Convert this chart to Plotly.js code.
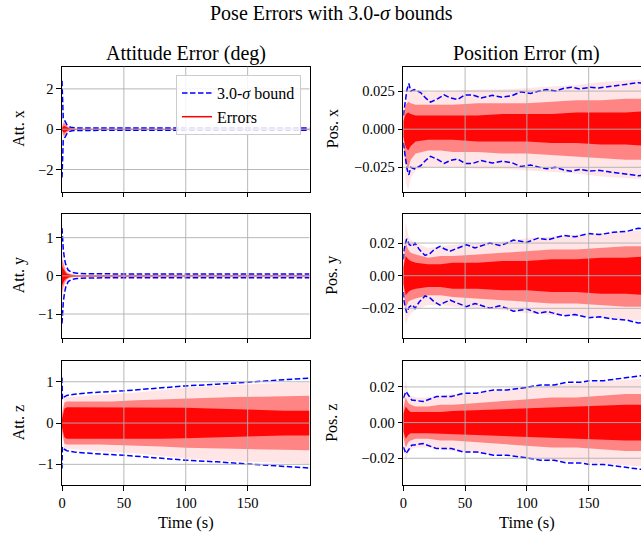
<!DOCTYPE html>
<html><head><meta charset="utf-8">
<script src="https://cdn.plot.ly/plotly-3.0.1.min.js"></script>
<style>html,body{margin:0;padding:0;overflow:hidden;background:#fff}</style>
</head><body><div id="chart" style="width:662px;height:537px"></div>
<script>
// ---------------- data ----------------
const timeTicks = [0, 50, 100, 150];

// Attitude x
const attX_boundT = [0, 0.3, 1, 2, 3, 4, 6, 8, 12, 20, 50, 100, 150, 200];
const attX_bound  = [2.4, 1.2, 0.55, 0.45, 0.35, 0.22, 0.12, 0.08, 0.06, 0.055, 0.055, 0.055, 0.055, 0.055];
const attX_bandT  = [0, 0.5, 1, 2, 3, 4, 6, 8, 12, 200];
const attX_outer  = [0.1, 0.3, 0.45, 0.48, 0.35, 0.22, 0.1, 0.05, 0.03, 0.03];
const attX_mid    = [0.07, 0.2, 0.3, 0.32, 0.25, 0.15, 0.07, 0.035, 0.02, 0.02];
const attX_core   = [0.04, 0.1, 0.15, 0.16, 0.12, 0.08, 0.04, 0.02, 0.01, 0.01];

// Attitude y
const attY_boundT = [0, 0.5, 1, 2, 3, 5, 8, 12, 20, 50, 100, 150, 200];
const attY_bound  = [1.25, 0.9, 0.7, 0.45, 0.3, 0.15, 0.09, 0.07, 0.055, 0.05, 0.05, 0.05, 0.05];
const attY_bandT  = [0, 0.5, 1, 2, 3, 4, 6, 8, 12, 200];
const attY_outer  = [0.65, 0.55, 0.45, 0.3, 0.2, 0.14, 0.08, 0.05, 0.03, 0.03];
const attY_mid    = [0.45, 0.4, 0.3, 0.2, 0.13, 0.09, 0.05, 0.035, 0.02, 0.02];
const attY_core   = [0.25, 0.22, 0.17, 0.12, 0.08, 0.05, 0.03, 0.02, 0.01, 0.01];

// Attitude z
const attZ_boundT = [0, 0.3, 1, 4, 10, 25, 50, 75, 100, 125, 150, 175, 200];
const attZ_bound  = [1.1, 0.58, 0.62, 0.67, 0.7, 0.74, 0.78, 0.84, 0.9, 0.94, 0.99, 1.04, 1.09];
const bandT       = [0, 2, 4, 6, 10, 20, 30, 40, 60, 80, 100, 120, 140, 160, 180, 200];
const attZ_outer  = [0.3, 0.62, 0.64, 0.64, 0.64, 0.66, 0.68, 0.7, 0.74, 0.8, 0.86, 0.9, 0.93, 0.95, 0.97, 0.99];
const attZ_mid    = [0.2, 0.5, 0.52, 0.52, 0.52, 0.52, 0.52, 0.52, 0.55, 0.57, 0.6, 0.62, 0.63, 0.64, 0.65, 0.66];
const attZ_core   = [0.1, 0.35, 0.38, 0.38, 0.38, 0.38, 0.38, 0.38, 0.38, 0.38, 0.37, 0.35, 0.33, 0.32, 0.3, 0.3];

// Position x
const posX_boundT = [0, 1, 3, 4.5, 6, 9, 14, 18, 22, 28, 33, 38, 44, 50, 56, 63, 72, 80, 88, 95, 103, 110, 116, 123, 130, 136, 143, 151, 158, 165, 175, 183, 190, 200];
const posX_bound  = [0.009, 0.014, 0.026, 0.030, 0.025, 0.026, 0.024, 0.0205, 0.0178, 0.020, 0.0225, 0.0205, 0.0195, 0.0225, 0.0225, 0.0205, 0.0222, 0.021, 0.022, 0.0245, 0.0235, 0.025, 0.026, 0.025, 0.0268, 0.0275, 0.0264, 0.0275, 0.027, 0.0278, 0.029, 0.0295, 0.0305, 0.030];
const posX_outerHi = [0.012, 0.025, 0.028, 0.027, 0.026, 0.024, 0.025, 0.025, 0.026, 0.026, 0.027, 0.028, 0.029, 0.031, 0.032, 0.033];
const posX_outerLo = [-0.012, -0.035, -0.04, -0.032, -0.027, -0.025, -0.025, -0.025, -0.026, -0.026, -0.027, -0.028, -0.029, -0.031, -0.032, -0.033];
const posX_midHi   = [0.008, 0.016, 0.018, 0.017, 0.016, 0.016, 0.016, 0.016, 0.017, 0.017, 0.017, 0.018, 0.019, 0.019, 0.020, 0.020];
const posX_midLo   = [-0.008, -0.022, -0.026, -0.02, -0.016, -0.014, -0.014, -0.015, -0.015, -0.016, -0.016, -0.017, -0.018, -0.019, -0.020, -0.020];
const posX_coreHi  = [0.005, 0.010, 0.011, 0.010, 0.009, 0.009, 0.009, 0.009, 0.009, 0.010, 0.010, 0.010, 0.011, 0.011, 0.011, 0.012];
const posX_coreLo  = [-0.005, -0.012, -0.014, -0.011, -0.008, -0.007, -0.007, -0.007, -0.008, -0.008, -0.008, -0.009, -0.009, -0.010, -0.010, -0.011];

// Position y
const posY_boundT = [0, 0.6, 2.7, 4.9, 7.6, 9.5, 13, 17.6, 21.6, 25, 29.7, 33, 37.8, 43, 51, 58, 64, 70, 78, 84, 89, 95, 100, 109, 117, 124, 130, 139, 150, 159, 170, 181, 190, 200];
const posY_bound  = [0.01, 0.016, 0.0226, 0.019, 0.018, 0.020, 0.016, 0.0124, 0.0136, 0.016, 0.018, 0.0165, 0.015, 0.0165, 0.019, 0.017, 0.0185, 0.020, 0.0185, 0.020, 0.0218, 0.021, 0.0205, 0.023, 0.022, 0.0235, 0.0246, 0.0238, 0.0258, 0.0252, 0.0266, 0.0272, 0.029, 0.0285];
const posY_outerHi = [0.012, 0.033, 0.025, 0.022, 0.02, 0.017, 0.018, 0.019, 0.02, 0.021, 0.023, 0.024, 0.025, 0.026, 0.027, 0.028];
const posY_outerLo = [-0.012, -0.03, -0.026, -0.023, -0.021, -0.018, -0.018, -0.019, -0.02, -0.021, -0.023, -0.024, -0.025, -0.026, -0.027, -0.028];
const posY_midHi   = [0.008, 0.02, 0.016, 0.014, 0.013, 0.011, 0.012, 0.012, 0.013, 0.014, 0.015, 0.016, 0.016, 0.017, 0.018, 0.018];
const posY_midLo   = [-0.008, -0.02, -0.016, -0.015, -0.014, -0.012, -0.012, -0.013, -0.014, -0.015, -0.016, -0.017, -0.017, -0.018, -0.019, -0.019];
const posY_coreHi  = [0.005, 0.012, 0.01, 0.009, 0.008, 0.007, 0.007, 0.008, 0.008, 0.009, 0.009, 0.01, 0.01, 0.011, 0.011, 0.012];
const posY_coreLo  = [-0.005, -0.012, -0.01, -0.009, -0.008, -0.007, -0.007, -0.008, -0.008, -0.009, -0.009, -0.01, -0.01, -0.011, -0.011, -0.012];

// Position z
const posZ_boundT = [0, 2.2, 6.8, 16, 27, 39, 48.6, 59.5, 73, 84, 100, 111, 122, 132, 143, 151, 162, 173, 184, 192, 200];
const posZ_bound  = [0.0137, 0.0174, 0.0127, 0.0118, 0.0146, 0.0146, 0.0165, 0.0165, 0.0183, 0.0183, 0.0198, 0.0211, 0.0211, 0.0226, 0.0226, 0.0235, 0.0235, 0.0245, 0.0254, 0.0262, 0.0265];
const posZ_outerHi = [0.012, 0.024, 0.016, 0.015, 0.014, 0.014, 0.015, 0.016, 0.017, 0.018, 0.02, 0.021, 0.022, 0.023, 0.024, 0.025];
const posZ_outerLo = [-0.012, -0.022, -0.017, -0.015, -0.014, -0.014, -0.015, -0.016, -0.017, -0.018, -0.02, -0.021, -0.022, -0.023, -0.024, -0.025];
const posZ_midHi   = [0.008, 0.014, 0.011, 0.010, 0.009, 0.009, 0.010, 0.010, 0.011, 0.012, 0.013, 0.014, 0.014, 0.015, 0.016, 0.016];
const posZ_midLo   = [-0.008, -0.014, -0.011, -0.010, -0.009, -0.009, -0.010, -0.010, -0.011, -0.012, -0.013, -0.014, -0.014, -0.015, -0.016, -0.016];
const posZ_coreHi  = [0.005, 0.009, 0.007, 0.006, 0.006, 0.006, 0.006, 0.0065, 0.007, 0.0075, 0.008, 0.0085, 0.009, 0.0095, 0.01, 0.01];
const posZ_coreLo  = [-0.005, -0.009, -0.007, -0.006, -0.006, -0.006, -0.006, -0.0065, -0.007, -0.0075, -0.008, -0.0085, -0.009, -0.0095, -0.01, -0.01];

// tick labels / texts
const mainTitle = 'Pose Errors with 3.0-<i>σ</i> bounds';
const colTitles = ['Attitude Error (deg)', 'Position Error (m)'];
const yLabels = ['Att. x', 'Pos. x', 'Att. y', 'Pos. y', 'Att. z', 'Pos. z'];
const xLabel = 'Time (s)';
const boundName = '3.0-<i>σ</i> bound';
const errName = 'Errors';

// ---------------- layout geometry ----------------
const W = 662, H = 537;
const FONT = 'Liberation Serif, Times New Roman, serif';
const colPx = [[62, 309.5], [403.3, 650.5]];
const rowPx = [[66.7, 191.7], [214, 337.7], [360.7, 485]];
const neg = a => a.map(v => -v);

const panels = [
  {row:0,col:0, yr:[-3.1,3.1], yt:[-2,0,2], fmt:'', bT:attX_boundT, b:attX_bound, t:attX_bandT,
   bands:[[attX_outer,neg(attX_outer)],[attX_mid,neg(attX_mid)],[attX_core,neg(attX_core)]]},
  {row:0,col:1, yr:[-0.041,0.041], yt:[-0.025,0,0.025], fmt:'.3f', bT:posX_boundT, b:posX_bound, t:bandT,
   bands:[[posX_outerHi,posX_outerLo],[posX_midHi,posX_midLo],[posX_coreHi,posX_coreLo]]},
  {row:1,col:0, yr:[-1.62,1.62], yt:[-1,0,1], fmt:'', bT:attY_boundT, b:attY_bound, t:attY_bandT,
   bands:[[attY_outer,neg(attY_outer)],[attY_mid,neg(attY_mid)],[attY_core,neg(attY_core)]]},
  {row:1,col:1, yr:[-0.038,0.0378], yt:[-0.02,0,0.02], fmt:'.2f', bT:posY_boundT, b:posY_bound, t:bandT,
   bands:[[posY_outerHi,posY_outerLo],[posY_midHi,posY_midLo],[posY_coreHi,posY_coreLo]]},
  {row:2,col:0, yr:[-1.5,1.51], yt:[-1,0,1], fmt:'', bT:attZ_boundT, b:attZ_bound, t:bandT,
   bands:[[attZ_outer,neg(attZ_outer)],[attZ_mid,neg(attZ_mid)],[attZ_core,neg(attZ_core)]]},
  {row:2,col:1, yr:[-0.035,0.0347], yt:[-0.02,0,0.02], fmt:'.2f', bT:posZ_boundT, b:posZ_bound, t:bandT,
   bands:[[posZ_outerHi,posZ_outerLo],[posZ_midHi,posZ_midLo],[posZ_coreHi,posZ_coreLo]]}
];
const bandColors = ['rgba(255,0,0,0.1)', 'rgba(255,0,0,0.42)', 'rgba(255,0,0,0.95)'];

const traces = [];
const layout = {
  width: W, height: H, margin: {l:0, r:0, t:0, b:0},
  paper_bgcolor: '#fff', plot_bgcolor: '#fff',
  font: {family: FONT, color: '#000', size: 14.5},
  showlegend: true,
  legend: {x: 301/W, xanchor: 'right', y: 1 - 75/H, yanchor: 'top',
           bgcolor: 'rgba(255,255,255,0.85)', bordercolor: '#cccccc', borderwidth: 1,
           font: {family: FONT, size: 16}, tracegroupgap: 0},
  shapes: [], annotations: []
};

panels.forEach((p, i) => {
  const n = i + 1;
  const xa = n === 1 ? 'x' : 'x' + n, ya = n === 1 ? 'y' : 'y' + n;
  const xd = colPx[p.col], yd = rowPx[p.row];
  layout['xaxis' + (n === 1 ? '' : n)] = {
    domain: [xd[0]/W, xd[1]/W], anchor: ya, range: [0, 200],
    tickvals: timeTicks, showticklabels: p.row === 2,
    ticks: 'outside', ticklen: 4.5, tickwidth: 1, tickcolor: '#000',
    showgrid: false, zeroline: false, showline: true, mirror: true,
    linecolor: '#000', linewidth: 1.1, tickfont: {size: 14.5}
  };
  layout['yaxis' + (n === 1 ? '' : n)] = {
    domain: [1 - yd[1]/H, 1 - yd[0]/H], anchor: xa, range: p.yr,
    tickvals: p.yt, tickformat: p.fmt,
    ticks: 'outside', ticklen: 4.5, tickwidth: 1, tickcolor: '#000',
    showgrid: false, zeroline: false, showline: true, mirror: true,
    linecolor: '#000', linewidth: 1.1, tickfont: {size: 14.5}
  };
  // error bands
  p.bands.forEach((b, k) => {
    traces.push({
      type: 'scatter', mode: 'lines', xaxis: xa, yaxis: ya,
      x: p.t.concat(p.t.slice().reverse()),
      y: b[0].concat(b[1].slice().reverse()),
      fill: 'toself', fillcolor: bandColors[k], line: {width: 0},
      hoverinfo: 'skip', showlegend: false
    });
  });
  // sigma bounds
  [p.b, neg(p.b)].forEach((arr, k) => {
    traces.push({
      type: 'scatter', mode: 'lines', xaxis: xa, yaxis: ya,
      x: p.bT, y: arr, name: boundName,
      line: {color: '#0000ff', width: 1.5, dash: '5.5px,2.5px'},
      showlegend: (n === 1 && k === 0), hoverinfo: 'skip'
    });
  });
  // grid lines (drawn above the data as in the reference)
  timeTicks.slice(1).forEach(v => layout.shapes.push({
    type: 'line', layer: 'above', xref: xa, yref: ya + ' domain',
    x0: v, x1: v, y0: 0, y1: 1, line: {color: '#b0b0b0', width: 0.9}
  }));
  p.yt.forEach(v => layout.shapes.push({
    type: 'line', layer: 'above', xref: xa + ' domain', yref: ya,
    x0: 0, x1: 1, y0: v, y1: v, line: {color: '#b0b0b0', width: 0.9}
  }));
  // y label
  const cy = (yd[0] + yd[1]) / 2;
  layout.annotations.push({
    text: yLabels[i], xref: 'paper', yref: 'paper',
    x: (p.col === 0 ? 18.5 : 332) / W, y: 1 - cy / H, xanchor: 'center', yanchor: 'middle',
    textangle: -90, showarrow: false, font: {size: 16}
  });
});
// legend-only entry for the error traces
traces.push({type: 'scatter', mode: 'lines', x: [null], y: [null], name: errName,
             line: {color: '#ff0000', width: 1.5}, showlegend: true, hoverinfo: 'skip'});

// titles
layout.annotations.push({text: mainTitle, xref: 'paper', yref: 'paper', x: 331/W, y: 1 - 13/H,
  xanchor: 'center', yanchor: 'middle', showarrow: false, font: {size: 20}});
colTitles.forEach((t, c) => layout.annotations.push({
  text: t, xref: 'paper', yref: 'paper', x: ((colPx[c][0] + colPx[c][1]) / 2) / W, y: 1 - 53/H,
  xanchor: 'center', yanchor: 'middle', showarrow: false, font: {size: 20}}));
colPx.forEach(cp => layout.annotations.push({
  text: xLabel, xref: 'paper', yref: 'paper', x: ((cp[0] + cp[1]) / 2) / W, y: 1 - 522/H,
  xanchor: 'center', yanchor: 'middle', showarrow: false, font: {size: 16.5}}));

Plotly.newPlot('chart', traces, layout, {staticPlot: true, displayModeBar: false});
</script></body></html>
